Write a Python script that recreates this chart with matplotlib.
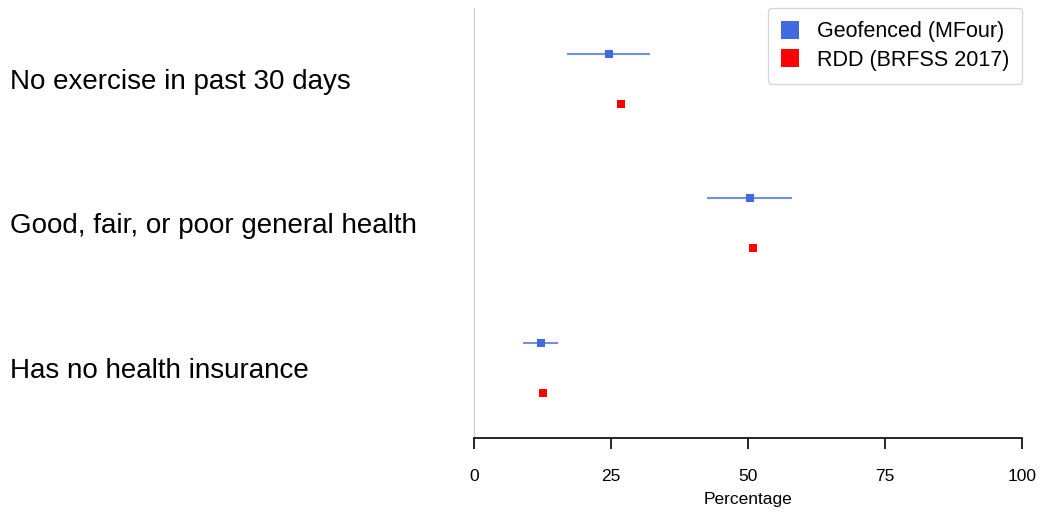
import numpy as np
import matplotlib.pyplot as plt

plt.rcParams['font.family'] = ['Liberation Sans', 'DejaVu Sans']

# data
categories = ["No exercise in past 30 days", "Good, fair, or poor general health", "Has no health insurance"]
geo_est = [24.6, 50.3, 12.2]
geo_lo = [17.0, 42.5, 8.9]
geo_hi = [32.2, 58.1, 15.4]
rdd_est = [26.8, 50.9, 12.6]

pos = np.arange(len(categories))
off = 0.173

fig = plt.figure(figsize=(10.44, 5.12), dpi=100)
ax = fig.add_axes([0.454, 0.1445, 0.525, 0.8395])

geo_err = [np.array(geo_est) - np.array(geo_lo), np.array(geo_hi) - np.array(geo_est)]
ax.errorbar(geo_est, pos - off, xerr=geo_err, fmt='none', ecolor='#4169E1', alpha=0.75, elinewidth=1.5, capsize=0)
ax.plot(geo_est, pos - off, 's', color='#4169E1', ms=6.3, mew=0, label='Geofenced (MFour)')
ax.plot(rdd_est, pos + off, 's', color='#FF0000', ms=6.3, mew=0, label='RDD (BRFSS 2017)')

ax.set_xlim(0, 100)
ax.set_ylim(2.485, -0.49)
ax.set_xticks([0, 25, 50, 75, 100])
ax.set_yticks(pos)
ax.set_yticklabels(categories, fontsize=20, ha='left')
ax.tick_params(axis='y', length=0, pad=334)
ax.tick_params(axis='x', length=8, width=1.2, labelsize=12.5, pad=14, colors='black')
ax.set_xlabel("Percentage", fontsize=12.5, labelpad=6)

for s in ['top', 'right']:
    ax.spines[s].set_visible(False)
ax.spines['left'].set_color('#cccccc')
ax.spines['bottom'].set_linewidth(1.2)

leg = ax.legend(loc='upper right', fontsize=15.5, markerscale=2.1, handlelength=0.85,
                handletextpad=0.83, borderpad=0.6, labelspacing=0.35,
                bbox_to_anchor=(1.0, 1.0), borderaxespad=0.0, frameon=True, fancybox=True)
leg.get_frame().set_edgecolor('#cccccc')

fig.savefig("out.png", dpi=100)
